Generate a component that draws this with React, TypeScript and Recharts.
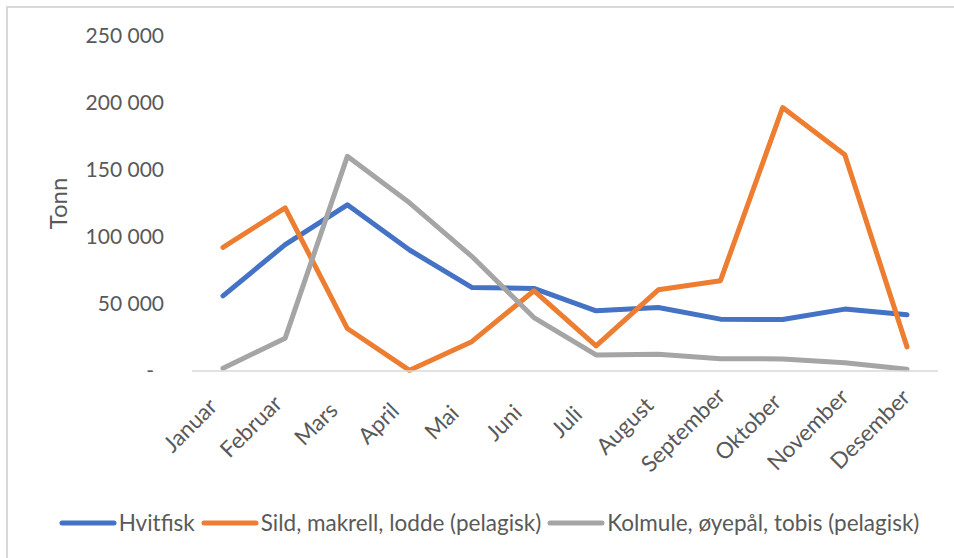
import React from "react";
import { LineChart, Line, XAxis, YAxis, Legend } from "recharts";

const months = ["Januar","Februar","Mars","April","Mai","Juni","Juli","August","September","Oktober","November","Desember"];
const hvitfisk = [56100, 94300, 124000, 90300, 62400, 61600, 44900, 47400, 38700, 38400, 46200, 41900];
const pelagisk = [92300, 121800, 31700, 500, 21900, 59900, 18700, 60600, 67400, 196600, 161400, 18000];
const kolmule = [2000, 24500, 160200, 125500, 85600, 39900, 12000, 12500, 9200, 9000, 6200, 1300];
const yTicks = [0, 50000, 100000, 150000, 200000, 250000];

const seriesNames = ["Hvitfisk", "Sild, makrell, lodde (pelagisk)", "Kolmule, øyepål, tobis (pelagisk)"];
const colors = ["#4472C4", "#ED7D31", "#A5A5A5"];

const data = months.map((m, i) => ({ month: m, a: hvitfisk[i], b: pelagisk[i], c: kolmule[i] }));

const FONT = "Lato, 'Open Sans', sans-serif";
const TEXT = "#595959";
const XFONT_SIZE = 22.5;

const fmt = (v: number) => (v === 0 ? "-" : String(v).replace(/\B(?=(\d{3})+(?!\d))/g, " "));

let ctx: CanvasRenderingContext2D | null = null;
const measure = (s: string) => {
  if (typeof document === "undefined") return s.length * 11;
  if (!ctx) ctx = document.createElement("canvas").getContext("2d");
  if (!ctx) return s.length * 11;
  ctx.font = `${XFONT_SIZE}px Lato`;
  return ctx.measureText(s).width;
};

const YTick = (props: any) => {
  const { x, y, payload } = props;
  const isZero = payload.value === 0;
  return (
    <text x={isZero ? x - 10 : x} y={y} dy="0.35em" textAnchor="end" fill={TEXT} fontSize={21} fontFamily={FONT}>
      {fmt(payload.value)}
    </text>
  );
};

const XTick = (props: any) => {
  const { x, y, payload } = props;
  const L = measure(String(payload.value));
  return (
    <g transform={`translate(${x},${y})`}>
      <text x={-52 + 0.35 * L} y={23} textAnchor="end" transform="rotate(-45)" fill={TEXT} fontSize={XFONT_SIZE} fontFamily={FONT}>
        {payload.value}
      </text>
    </g>
  );
};

const LegendContent = () => (
  <div style={{ display: "flex", justifyContent: "center", alignItems: "center", fontFamily: FONT, fontSize: 22.5, color: TEXT, whiteSpace: "nowrap" }}>
    {seriesNames.map((n, i) => (
      <div key={n} style={{ display: "flex", alignItems: "center", marginRight: i < 2 ? 6 : 0 }}>
        <svg width={58} height={10} style={{ marginRight: 2 }}>
          <line x1={3} y1={5} x2={55} y2={5} stroke={colors[i]} strokeWidth={5} strokeLinecap="round" />
        </svg>
        <span>{n}</span>
      </div>
    ))}
  </div>
);

export default function App() {
  return (
    <div style={{ position: "absolute", left: 0, top: 0, width: 954, height: 558, background: "#fff", overflow: "hidden" }}>
      <div style={{ position: "absolute", left: 6, top: 6, width: 960, height: 560, borderLeft: "2px solid #D9D9D9", borderTop: "2px solid #D9D9D9" }} />
      <div style={{ position: "absolute", left: 0, top: 0 }}>
        <LineChart width={954} height={558} data={data} margin={{ top: 36, right: 16, bottom: 60, left: 40 }}>
          <XAxis
            dataKey="month"
            interval={0}
            height={100}
            padding={{ left: 31, right: 31 }}
            tickLine={false}
            tickSize={0}
            tickMargin={0}
            axisLine={{ stroke: "#D9D9D9", strokeWidth: 1.5 }}
            tick={<XTick />}
          />
          <YAxis
            domain={[0, 250000]}
            ticks={yTicks}
            width={152}
            axisLine={false}
            tickLine={false}
            tickSize={0}
            tickMargin={28}
            tick={<YTick />}
            label={{ value: "Tonn", angle: -90, position: "insideLeft", offset: 18, fill: TEXT, fontSize: 24, fontFamily: FONT, style: { textAnchor: "middle" } }}
          />
          <Legend verticalAlign="bottom" wrapperStyle={{ bottom: 22 }} content={<LegendContent />} />
          <Line dataKey="a" name={seriesNames[0]} stroke={colors[0]} strokeWidth={5} dot={false} strokeLinejoin="round" strokeLinecap="round" isAnimationActive={false} />
          <Line dataKey="b" name={seriesNames[1]} stroke={colors[1]} strokeWidth={5} dot={false} strokeLinejoin="round" strokeLinecap="round" isAnimationActive={false} />
          <Line dataKey="c" name={seriesNames[2]} stroke={colors[2]} strokeWidth={5} dot={false} strokeLinejoin="round" strokeLinecap="round" isAnimationActive={false} />
        </LineChart>
      </div>
    </div>
  );
}
